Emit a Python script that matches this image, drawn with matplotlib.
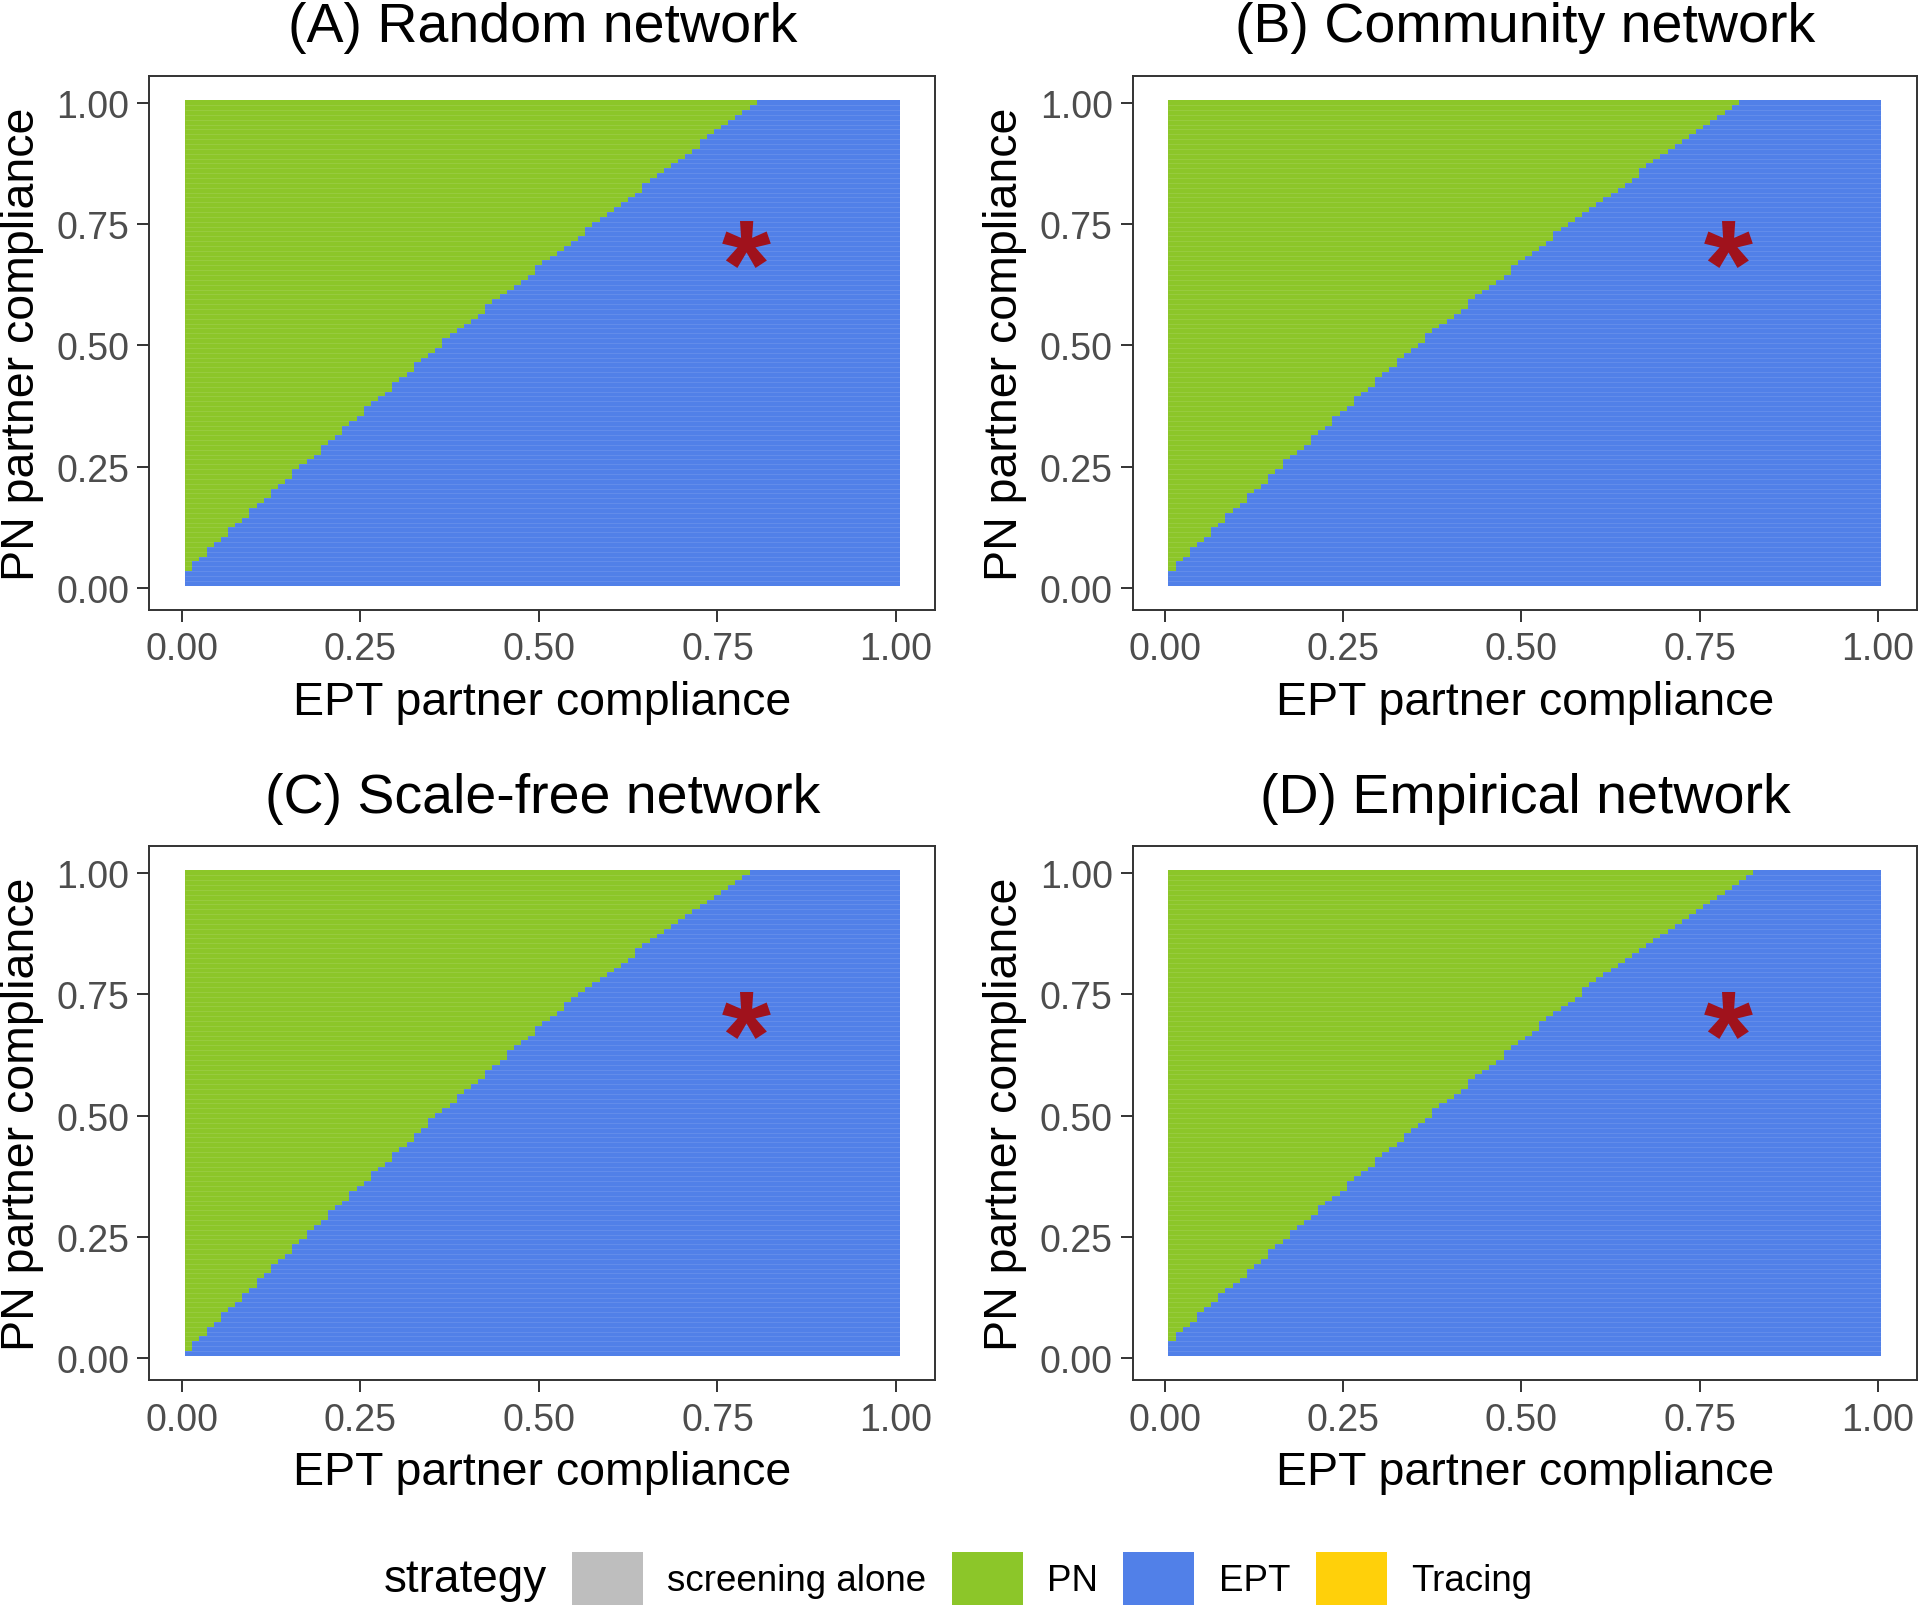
import numpy as np
import matplotlib
matplotlib.use("Agg")
from matplotlib import pyplot as plt
from matplotlib.colors import ListedColormap
from matplotlib.patches import Patch
from matplotlib.textpath import TextPath
from matplotlib.font_manager import FontProperties
from matplotlib.path import Path

plt.rcParams['font.family'] = ['Liberation Sans', 'DejaVu Sans']

# strategies and their colours
strategies = ["screening alone", "PN", "EPT", "Tracing"]
strategy_colors = ["#BEBEBE", "#8CC629", "#5180E8", "#FFD00A"]

# parameter grid (EPT compliance on x, PN compliance on y)
ept_values = np.round(np.arange(1, 101) / 100, 2)
pn_values = np.round(np.arange(1, 101) / 100, 2)

# PN/EPT boundary:
# for a PN compliance level, the largest EPT compliance where PN is still best
random_pn = [0.03, 0.04, 0.25, 0.50, 0.75, 1.00]
random_ept = [0.00, 0.01, 0.167, 0.360, 0.578, 0.80]

community_pn = [0.03, 0.04, 0.25, 0.50, 0.75, 1.00]
community_ept = [0.00, 0.01, 0.162, 0.352, 0.567, 0.80]

scalefree_pn = [0.01, 0.02, 0.25, 0.50, 0.75, 1.00]
scalefree_ept = [0.00, 0.01, 0.172, 0.357, 0.555, 0.79]

empirical_pn = [0.03, 0.04, 0.25, 0.50, 0.75, 1.00]
empirical_ept = [0.00, 0.01, 0.172, 0.371, 0.580, 0.82]

titles = ["(A) Random network", "(B) Community network",
          "(C) Scale-free network", "(D) Empirical network"]
boundaries = [(random_pn, random_ept), (community_pn, community_ept),
              (scalefree_pn, scalefree_ept), (empirical_pn, empirical_ept)]

# current estimate, marked with an asterisk
star_ept = 0.79
star_pn = 0.708

fig = plt.figure(figsize=(19.2, 16.15), dpi=100)

ax_pos = [
    [0.0778, 0.6217, 0.4094, 0.3306],
    [0.5900, 0.6217, 0.4085, 0.3306],
    [0.0778, 0.1448, 0.4094, 0.3306],
    [0.5900, 0.1448, 0.4085, 0.3306],
]

cmap = ListedColormap(strategy_colors)

# asterisk glyph as a marker, centred on the glyph itself
ast = TextPath((0, 0), "*", prop=FontProperties(family="Liberation Sans", weight="bold"))
codes = ast.codes
v = ast.vertices.copy()
real = codes != Path.CLOSEPOLY
ctr = (v[real].min(axis=0) + v[real].max(axis=0)) / 2
v = v - ctr
for k in range(len(v)):
    if codes[k] == Path.CLOSEPOLY:
        v[k] = v[k - 1]
ast_marker = Path(v, codes)

xedges = np.append(ept_values - 0.005, ept_values[-1] + 0.005)
yedges = np.append(pn_values - 0.005, pn_values[-1] + 0.005)

for i in range(4):
    ax = fig.add_axes(ax_pos[i])
    bpn, bept = boundaries[i]
    thr_rows = np.interp(pn_values, bpn, bept)
    grid = np.where(ept_values[None, :] <= thr_rows[:, None] + 1e-6, 1, 2)
    ax.pcolormesh(xedges, yedges, grid, cmap=cmap, vmin=-0.5, vmax=3.5,
                  shading="flat", edgecolors="none", antialiased=False)
    # faint seams between tile rows, as in the original raster
    ax.hlines(yedges[1:-1], xedges[0], xedges[-1], colors="white", alpha=0.12, linewidth=0.6)
    ax.plot([star_ept], [star_pn], linestyle="none", marker=ast_marker,
            markersize=35, color="#A0121C", markeredgewidth=0)

    ax.set_xlim(-0.045, 1.055)
    ax.set_ylim(-0.045, 1.055)
    ticks = [0, 0.25, 0.5, 0.75, 1.0]
    ax.set_xticks(ticks)
    ax.set_yticks(ticks)
    ax.set_xticklabels(["0.00", "0.25", "0.50", "0.75", "1.00"])
    ax.set_yticklabels(["0.00", "0.25", "0.50", "0.75", "1.00"])
    ax.tick_params(length=8.5, width=1.4, color="#333333", labelsize=27,
                   labelcolor="#4D4D4D")
    ax.tick_params(axis="x", pad=7)
    ax.tick_params(axis="y", pad=6)
    for s in ax.spines.values():
        s.set_color("#333333")
        s.set_linewidth(1.4)
    ax.set_xlabel("EPT partner compliance", fontsize=33.5, labelpad=9)
    ax.set_ylabel("PN partner compliance", fontsize=33.5, labelpad=9)
    ax.set_title(titles[i], fontsize=40, pad=25)

# legend at the bottom
handles = [Patch(facecolor=c, edgecolor="none") for c in strategy_colors]
fig.text(0.2850, 0.0219, "strategy", fontsize=33, ha="right", va="center")
fig.legend(handles, strategies, loc="center left", bbox_to_anchor=(0.2978, 0.0219),
           ncol=4, frameon=False, fontsize=26.5, handlelength=1.93, handleheight=1.86,
           handletextpad=0.67, columnspacing=0.68, borderpad=0, borderaxespad=0)

fig.savefig("out.png", dpi=100)
